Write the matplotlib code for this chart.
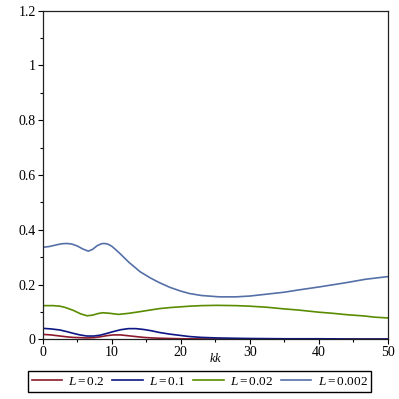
import matplotlib.pyplot as plt
from matplotlib.ticker import MultipleLocator

plt.rcParams['font.family'] = 'Liberation Serif'
plt.rcParams['mathtext.fontset'] = 'custom'
plt.rcParams['mathtext.rm'] = 'Liberation Serif'
plt.rcParams['mathtext.it'] = 'Liberation Serif:italic'

# values
x_a = [0, 1, 2, 2.8, 3.5, 4.2, 5, 5.8, 6.6, 7.2, 7.9, 8.5, 8.9, 9.4, 10,
       10.6, 11.2, 12.5, 14.1, 15.6, 16.9, 18.4, 20, 21.3, 23, 25.6, 28, 30,
       32.5, 35, 37, 40, 42, 44, 46.7, 48, 50]
y_a = [0.336, 0.339, 0.345, 0.349, 0.350, 0.348, 0.341, 0.330, 0.322, 0.328,
       0.342, 0.349, 0.350, 0.348, 0.340, 0.327, 0.313, 0.281, 0.247, 0.224,
       0.207, 0.190, 0.176, 0.167, 0.160, 0.155, 0.155, 0.158, 0.165, 0.172,
       0.180, 0.191, 0.199, 0.207, 0.219, 0.223, 0.229]

x_b = [0, 1.5, 2.5, 3.3, 4.4, 5.5, 6.4, 7.2, 8, 8.7, 9.7, 11, 12.5, 14.1,
       15.6, 16.9, 18.5, 21.3, 23, 25.2, 28, 30, 32.5, 35, 37, 40, 42, 44,
       46.7, 48, 50]
y_b = [0.123, 0.123, 0.121, 0.116, 0.106, 0.093, 0.086, 0.088, 0.094, 0.097,
       0.095, 0.091, 0.095, 0.101, 0.107, 0.112, 0.116, 0.121, 0.123, 0.124,
       0.123, 0.121, 0.117, 0.111, 0.107, 0.099, 0.095, 0.090, 0.085, 0.081,
       0.078]

x_c = [0, 1.2, 2.5, 3.5, 4.4, 5.4, 6.4, 7.4, 8.3, 9.2, 10.2, 11.3, 12.4,
       13.5, 14.6, 15.8, 16.9, 18.4, 20, 21.3, 23, 25.2, 27.5, 30, 35, 40,
       45, 50]
y_c = [0.040, 0.038, 0.034, 0.028, 0.022, 0.016, 0.012, 0.012, 0.015, 0.021,
       0.028, 0.035, 0.039, 0.039, 0.036, 0.031, 0.025, 0.019, 0.014, 0.010,
       0.007, 0.005, 0.004, 0.003, 0.002, 0.002, 0.001, 0.001]

x_d = [0, 1.2, 2.5, 3.5, 4.4, 5.4, 6.4, 7.4, 8.3, 9.2, 10.2, 11.3, 12.4,
       13.5, 14.6, 15.8, 16.9, 18.5, 20, 22.5, 25, 30, 40, 50]
y_d = [0.018, 0.016, 0.012, 0.009, 0.007, 0.006, 0.005, 0.006, 0.009, 0.013,
       0.016, 0.016, 0.013, 0.010, 0.007, 0.005, 0.004, 0.003, 0.002, 0.0015,
       0.001, 0.001, 0.0005, 0.0003]

labels = ['$L = 0.2$', '$L = 0.1$', '$L = 0.02$', '$L = 0.002$']
colors = ['#8c1a2c', '#0d1682', '#5a8c00', '#5570a8']

fig = plt.figure(figsize=(3.99, 3.99), dpi=100)
ax = fig.add_axes([0.107, 0.1496, 0.865, 0.8236])

ax.plot(x_d, y_d, color=colors[0], lw=1.2, label=labels[0])
ax.plot(x_c, y_c, color=colors[1], lw=1.2, label=labels[1])
ax.plot(x_b, y_b, color=colors[2], lw=1.2, label=labels[2])
ax.plot(x_a, y_a, color=colors[3], lw=1.2, label=labels[3])

ax.set_xlim(0, 50)
ax.set_ylim(0, 1.2)
ax.xaxis.set_major_locator(MultipleLocator(10))
ax.xaxis.set_minor_locator(MultipleLocator(5))
ax.yaxis.set_major_locator(MultipleLocator(0.2))
ax.yaxis.set_minor_locator(MultipleLocator(0.1))
ax.set_yticks([0, 0.2, 0.4, 0.6, 0.8, 1, 1.2])
ax.set_yticklabels(['0', '0.2', '0.4', '0.6', '0.8', '1', '1.2'])
ax.tick_params(which='major', length=3.5, width=0.8, labelsize=10, pad=1.5)
ax.tick_params(which='minor', length=2, width=0.8)
for s in ax.spines.values():
    s.set_linewidth(0.9)
    s.set_color('#222222')

ax.set_xlabel('$kk$', fontsize=9, labelpad=-5)

fig.legend(loc='center', bbox_to_anchor=(0.5, 0.044), ncol=4, fontsize=9.5,
           frameon=True, fancybox=False, edgecolor='black', framealpha=1,
           handlelength=2.3, handletextpad=0.5, columnspacing=0.55,
           borderpad=0.3, borderaxespad=0)

fig.savefig('out.png', dpi=100)
